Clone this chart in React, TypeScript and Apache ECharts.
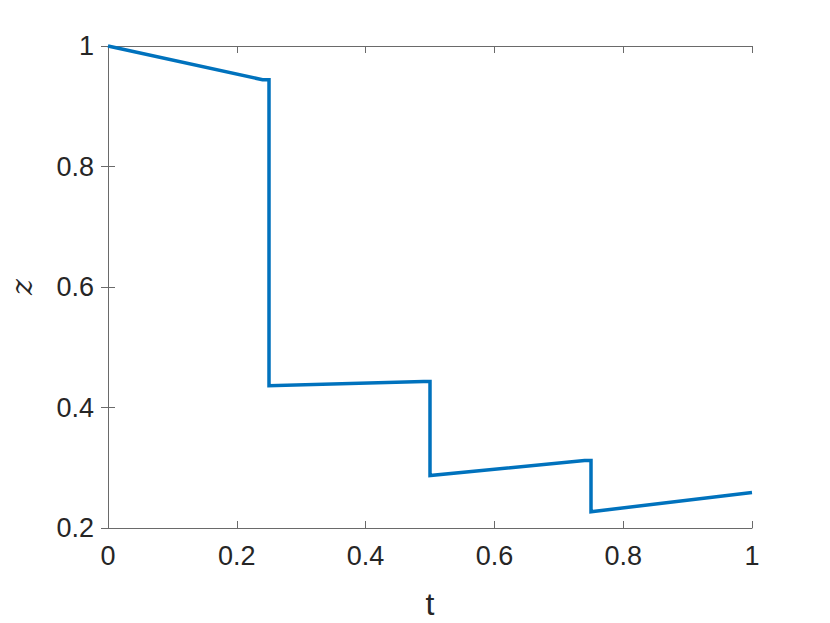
import React, { useEffect, useRef } from "react";
import * as echarts from "echarts";

const tValues = [0, 0.24, 0.25, 0.25, 0.49, 0.5, 0.5, 0.74, 0.75, 0.75, 1];
const zValues = [1, 0.944, 0.944, 0.436, 0.443, 0.443, 0.287, 0.312, 0.312, 0.227, 0.259];
const xTickLabels = ["0", "0.2", "0.4", "0.6", "0.8", "1"];
const yTickLabels = ["0.2", "0.4", "0.6", "0.8", "1"];
const xAxisName = "t";
const yAxisName = "z";

const fmt = (v: number) => String(Math.round(v * 10) / 10);

export default function App() {
  const ref = useRef<HTMLDivElement>(null);
  useEffect(() => {
    if (!ref.current) return;
    const chart = echarts.init(ref.current, null, { renderer: "svg" });
    const axisColor = "#6a6a6a";
    const labelColor = "#262626";
    const font = "Liberation Sans, Arial, Helvetica, sans-serif";
    const common = {
      axisLine: { show: true, lineStyle: { color: axisColor, width: 1 } },
      axisTick: { show: true, inside: true, length: 7, lineStyle: { color: axisColor } },
      splitLine: { show: false },
    };
    const xLabelSet = new Set(xTickLabels);
    const yLabelSet = new Set(yTickLabels);
    chart.setOption({
      animation: false,
      backgroundColor: "#ffffff",
      grid: {
        left: 108,
        right: 78,
        top: 46,
        bottom: 95,
        containLabel: false,
        outerBoundsMode: "none",
      },
      xAxis: [
        {
          type: "value",
          min: 0,
          max: 1,
          interval: 0.2,
          position: "bottom",
          name: xAxisName,
          nameLocation: "middle",
          nameGap: 60,
          nameTextStyle: { color: labelColor, fontSize: 32, fontFamily: font },
          axisLabel: {
            color: labelColor,
            fontSize: 27,
            fontFamily: font,
            margin: 14,
            formatter: (v: number) => (xLabelSet.has(fmt(v)) ? fmt(v) : ""),
          },
          ...common,
        },
        {
          type: "value",
          min: 0,
          max: 1,
          interval: 0.2,
          position: "top",
          axisLabel: { show: false },
          ...common,
        },
      ],
      yAxis: [
        {
          type: "value",
          min: 0.2,
          max: 1,
          interval: 0.2,
          position: "left",
          name: yAxisName,
          nameLocation: "middle",
          nameRotate: 90,
          nameGap: 72,
          nameTextStyle: {
            color: labelColor,
            fontSize: 30,
            fontStyle: "italic",
            fontFamily: "DejaVu Serif, Liberation Serif, serif",
          },
          axisLabel: {
            color: labelColor,
            fontSize: 27,
            fontFamily: font,
            margin: 14,
            formatter: (v: number) => (yLabelSet.has(fmt(v)) ? fmt(v) : ""),
          },
          ...common,
        },
        {
          type: "value",
          min: 0.2,
          max: 1,
          interval: 0.2,
          position: "right",
          axisLabel: { show: false },
          ...common,
        },
      ],
      series: [
        {
          type: "line",
          xAxisIndex: 0,
          yAxisIndex: 0,
          data: tValues.map((t, i) => [t, zValues[i]]),
          showSymbol: false,
          symbol: "none",
          lineStyle: { color: "#0072BD", width: 3.5, join: "miter" },
          clip: false,
        },
      ],
    });
    return () => chart.dispose();
  }, []);
  return (
    <div
      ref={ref}
      style={{ position: "fixed", left: 0, top: 0, width: 830, height: 623 }}
    />
  );
}
